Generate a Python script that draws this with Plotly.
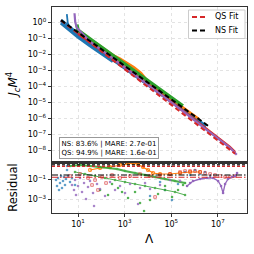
import numpy as np
import plotly.graph_objects as go

# ---------------- data (log10 values) ----------------
BLUE_LX = [0.27, 0.6, 1.0, 1.5, 2.0, 2.5, 3.0, 3.5, 4.0, 4.5, 5.0, 5.5, 6.0, 6.5]
BLUE_LY = [0.10, -0.30, -0.75, -1.30, -1.82, -2.35, -2.88, -3.40, -3.93, -4.45, -4.97, -5.50, -6.02, -6.50]
BLUE2_LX = [0.27, 0.6, 1.0, 1.5, 2.0, 2.5]
BLUE2_LY = [-0.05, -0.45, -0.92, -1.45, -1.97, -2.45]
BLUE3_LX = [0.52, 0.53, 0.56, 0.62, 0.75]
BLUE3_LY = [0.50, 0.20, -0.05, -0.25, -0.42]
ORANGE_LX = [1.0, 1.5, 2.0, 2.5, 2.8, 3.1, 3.4, 3.7, 3.9, 4.2, 4.6, 5.0, 5.6, 6.2]
ORANGE_LY = [-0.54, -1.06, -1.58, -2.06, -2.27, -2.53, -2.82, -3.16, -3.52, -3.93, -4.35, -4.76, -5.42, -6.06]
GREEN_LX = [0.95, 0.97, 1.0, 1.5, 2.0, 2.5, 3.0, 3.5, 4.0, 4.5, 5.0, 5.5]
GREEN_LY = [-0.15, -0.35, -0.50, -1.03, -1.56, -2.08, -2.60, -3.13, -3.66, -4.18, -4.70, -5.22]
RED_LX = [1.0, 1.5, 2.5, 3.5, 4.5, 5.5, 6.5, 7.0, 7.5, 7.74]
RED_LY = [-0.72, -1.22, -2.28, -3.34, -4.42, -5.52, -6.66, -7.22, -7.76, -8.10]
PURPLE_LX = [0.85, 0.86, 0.88, 0.95, 1.5, 2.5, 3.5, 4.5, 5.5, 6.5, 7.0, 7.5, 7.81]
PURPLE_LY = [0.55, 0.30, 0.00, -0.35, -1.20, -2.27, -3.35, -4.43, -5.55, -6.70, -7.25, -7.80, -8.27]

NS_FIT_LX = [0.27, 6.58]
NS_FIT_LY = [0.12, -6.46]
QS_FIT_LX = [0.27, 7.74]
QS_FIT_LY = [0.10, -8.20]

# residual panel (log10 values)
RB_LX = [0.056, 0.099, 0.142, 0.185, 0.227, 0.27, 0.313, 0.356, 0.399, 0.442, 0.485, 0.528, 0.528, 0.571,
         0.657, 0.742, 0.871, 4.09, 4.52, 4.73, 5.03, 5.29, 5.59, 5.81, 6.02, 6.24, 6.45, 6.67]
RB_LY = [-1.07, -1.67, -0.87, -2.07, -1.37, -0.67, -1.87, -1.17, -0.77, -1.57, -0.97, -0.07, 0.33, -0.67,
         -1.27, -0.87, -1.57, -2.67, -1.27, -2.07, -3.07, -1.47, -0.27, -0.57, -0.07, -0.47, -0.27, -0.67]
RO_LX = [1.515, 1.944, 2.373, 2.803, 3.146, 3.361, 3.575, 3.79, 4.004, 4.219, 4.519, 4.948, 5.378, 5.807, 6.236]
RO_LY = [-0.07, 0.13, 0.23, 0.43, 0.58, 0.63, 0.48, 0.23, -0.07, -0.37, -0.47, -0.47, -0.37, -0.27, -0.27]
RGA_LX = [0.657, 1.086, 1.515, 1.944, 2.373, 2.674, 3.017, 3.446, 3.876, 4.305, 4.734, 5.163, 5.592]
RGA_LY = [0.33, 0.43, 0.33, 0.23, 0.13, 0.03, -0.17, -0.37, -0.57, -0.77, -0.97, -1.17, -1.37]
RGB_LX = [0.871, 1.3, 1.73, 2.159, 2.588, 3.017, 3.446, 3.876, 4.305, 4.734, 5.163, 5.592]
RGB_LY = [-0.27, -0.47, -0.67, -0.87, -1.07, -1.27, -1.47, -1.67, -1.87, -2.07, -2.27, -2.57]
RGS_LX = [1.944, 2.288, 2.459, 2.717, 2.888, 3.146, 3.446, 3.661, 3.833, 4.09, 4.433, 4.734, 5.034, 5.292, 5.506]
RGS_LY = [-2.07, -2.57, -1.47, -1.87, -2.27, -2.87, -2.27, -3.37, -4.17, -3.07, -2.47, -1.67, -2.77, -2.07, -1.57]
RR_LX = [0.657, 1.086, 1.429, 1.601, 1.73, 1.858, 2.03, 2.202, 2.459, 2.803, 3.232, 3.661, 4.09, 4.305, 4.519,
         4.948, 5.378, 5.592, 5.807, 6.021, 6.236, 6.451, 6.665, 6.88, 7.094, 7.309, 7.524, 7.738]
RR_LY = [-0.67, -0.47, -0.87, -1.57, -1.07, -2.07, -0.77, -1.37, -0.57, -0.87, -0.67, -0.47, -0.67, -2.77, -0.57,
         -0.47, -0.27, -0.17, -0.17, -0.17, -0.27, -0.37, -0.47, -0.57, -0.67, -0.77, -0.77, -0.67]
RP_LX = [0.742, 0.828, 0.871, 0.914, 1.0, 1.086, 1.172, 1.258, 1.343, 1.429, 1.515, 1.644, 1.687, 1.815, 1.944,
         2.159, 2.373, 2.588, 2.803, 3.017, 3.232, 3.575, 3.661, 3.876, 4.09, 4.519, 4.948, 5.378]
RP_LY = [-1.57, -2.07, -1.07, -2.57, -1.67, -0.87, -2.27, -1.37, -2.97, -1.77, -1.17, -2.37, -3.67, -1.47, -1.97,
         -2.67, -1.27, -2.07, -1.67, -2.37, -1.47, -3.47, -1.87, -1.37, -1.97, -1.57, -1.07, -1.17]
RPC_LX = [5.678, 5.807, 5.936, 6.236, 6.536, 6.794, 7.009, 7.137, 7.223, 7.309, 7.438, 7.609, 7.738, 7.824]
RPC_LY = [-1.67, -1.37, -1.17, -0.97, -0.87, -0.87, -1.17, -1.67, -2.37, -1.47, -0.97, -0.77, -0.67, -0.37]

NS_UPPER = 2.8
QS_UPPER = 2.0
NS_MARE = 0.27
QS_MARE = 0.16
NS_PCT = 83.6
QS_PCT = 94.9

LEGEND_LABELS = ["QS Fit", "NS Fit"]
TOP_TICK_EXP = [0, -1, -2, -3, -4, -5, -6, -7, -8]
RES_TICK_EXP = [-1, -3]
X_TICK_EXP = [1, 3, 5, 7]

C_BLUE, C_ORANGE, C_GREEN, C_RED, C_PURPLE = "#1f77b4", "#ff7f0e", "#2ca02c", "#d62728", "#9467bd"


def p(a):
    return np.power(10.0, np.array(a, dtype=float))


def sup(e):
    s = str(e).replace("-", "\u2212")
    return "10<sup>" + s + "</sup>"


fig = go.Figure()

# ---------- top panel ----------
for lx, ly, c, w in [(BLUE_LX, BLUE_LY, C_BLUE, 3.5), (BLUE2_LX, BLUE2_LY, C_BLUE, 3.5),
                     (BLUE3_LX, BLUE3_LY, C_BLUE, 1.8),
                     (ORANGE_LX, ORANGE_LY, C_ORANGE, 2.5), (GREEN_LX, GREEN_LY, C_GREEN, 3.5),
                     (RED_LX, RED_LY, C_RED, 2.5), (PURPLE_LX, PURPLE_LY, C_PURPLE, 2.2)]:
    fig.add_trace(go.Scatter(x=p(lx), y=p(ly), mode="lines", line=dict(color=c, width=w),
                             showlegend=False, xaxis="x", yaxis="y", hoverinfo="skip"))

fig.add_trace(go.Scatter(x=p(QS_FIT_LX), y=p(QS_FIT_LY), mode="lines", name=LEGEND_LABELS[0],
                         line=dict(color=C_RED, width=2, dash="5px,3px"), xaxis="x", yaxis="y",
                         showlegend=False))
fig.add_trace(go.Scatter(x=p(NS_FIT_LX), y=p(NS_FIT_LY), mode="lines", name=LEGEND_LABELS[1],
                         line=dict(color="black", width=2, dash="5px,3px"), xaxis="x", yaxis="y",
                         showlegend=False))

# ---------- residual panel ----------
ms = 2.6
fig.add_trace(go.Scatter(x=p(RB_LX), y=p(RB_LY), mode="markers", marker=dict(color=C_BLUE, size=ms, opacity=0.7),
                         showlegend=False, xaxis="x2", yaxis="y2"))
fig.add_trace(go.Scatter(x=p(RO_LX), y=p(RO_LY), mode="lines+markers", line=dict(color=C_ORANGE, width=1.2),
                         marker=dict(color=C_ORANGE, size=ms, symbol="square-open"),
                         showlegend=False, xaxis="x2", yaxis="y2"))
fig.add_trace(go.Scatter(x=p(RGA_LX), y=p(RGA_LY), mode="lines+markers", line=dict(color=C_GREEN, width=2.2),
                         marker=dict(color=C_GREEN, size=ms), opacity=0.85,
                         showlegend=False, xaxis="x2", yaxis="y2"))
fig.add_trace(go.Scatter(x=p(RGB_LX), y=p(RGB_LY), mode="lines+markers", line=dict(color=C_GREEN, width=1.0),
                         marker=dict(color=C_GREEN, size=ms), opacity=0.8,
                         showlegend=False, xaxis="x2", yaxis="y2"))
fig.add_trace(go.Scatter(x=p(RGS_LX), y=p(RGS_LY), mode="markers", marker=dict(color=C_GREEN, size=ms, opacity=0.8),
                         showlegend=False, xaxis="x2", yaxis="y2"))
fig.add_trace(go.Scatter(x=p(RR_LX), y=p(RR_LY), mode="markers",
                         marker=dict(color=C_RED, size=ms, opacity=0.6, symbol="square-open"),
                         showlegend=False, xaxis="x2", yaxis="y2"))
fig.add_trace(go.Scatter(x=p(RP_LX), y=p(RP_LY), mode="markers", marker=dict(color=C_PURPLE, size=ms, opacity=0.8),
                         showlegend=False, xaxis="x2", yaxis="y2"))
fig.add_trace(go.Scatter(x=p(RPC_LX), y=p(RPC_LY), mode="lines+markers", line=dict(color=C_PURPLE, width=1.3),
                         marker=dict(color=C_PURPLE, size=ms),
                         showlegend=False, xaxis="x2", yaxis="y2"))

shapes = []
for val, col, dash in [(NS_UPPER, "black", "3px,2px"), (QS_UPPER, C_RED, "3px,2px"),
                       (NS_MARE, "black", "6px,2px,1.5px,2px"), (QS_MARE, C_RED, "6px,2px,1.5px,2px")]:
    shapes.append(dict(type="line", xref="x2 domain", yref="y2", x0=0, x1=1, y0=val, y1=val,
                       line=dict(color=col, width=1.2, dash=dash)))

# manual legend (box + samples), positioned in paper coordinates
L, R, T, B = 52.0, 247.0, 7.0, 213.0
W, H = R - L, 254.0 - 7.0 - 41.0


def px(x):
    return (x - L) / W


def py(y):
    return (B - y) / H


shapes.append(dict(type="rect", xref="paper", yref="paper", x0=px(188.5), x1=px(245), y0=py(38.5), y1=py(10),
                   line=dict(color="#cccccc", width=1), fillcolor="rgba(255,255,255,0.9)", layer="above"))
legend_ann = []
for i, (lab, col) in enumerate(zip(LEGEND_LABELS, [C_RED, "black"])):
    yy = 17.0 + 13.5 * i
    shapes.append(dict(type="line", xref="paper", yref="paper", x0=px(192), x1=px(207.5), y0=py(yy), y1=py(yy),
                       line=dict(color=col, width=2, dash="5px,3px"), layer="above"))
    legend_ann.append(dict(text=lab, xref="paper", yref="paper", x=px(213), y=py(yy), xanchor="left",
                           yanchor="middle", showarrow=False, font=dict(size=8)))

font_family = "DejaVu Sans"
axis_common = dict(showline=True, linecolor="#333", linewidth=1.2, mirror=True,
                   showgrid=True, gridcolor="#dcdcdc", griddash="dot", gridwidth=0.8,
                   ticks="outside", ticklen=3, tickcolor="#333", zeroline=False, automargin=False,
                   tickfont=dict(size=8, color="black", family=font_family))

split = 0.2451
fig.update_layout(
    width=254, height=254,
    margin=dict(l=52, r=7, t=7, b=41),
    paper_bgcolor="white", plot_bgcolor="white",
    font=dict(family=font_family, color="black"),
    showlegend=False,
    hovermode=False,
    xaxis=dict(type="log", range=[-0.116, 8.25], domain=[0, 1], anchor="y",
               tickvals=p(X_TICK_EXP), showticklabels=False, **axis_common),
    yaxis=dict(type="log", range=[-8.75, 0.94], domain=[split, 1], anchor="x",
               tickvals=p(TOP_TICK_EXP), ticktext=[sup(e) for e in TOP_TICK_EXP], **axis_common),
    xaxis2=dict(type="log", range=[-0.116, 8.25], domain=[0, 1], anchor="y2", matches="x",
                tickvals=p(X_TICK_EXP), ticktext=[sup(e) for e in X_TICK_EXP], **axis_common),
    yaxis2=dict(type="log", range=[-4.37, 0.68], domain=[0, split], anchor="x2",
                tickvals=p(RES_TICK_EXP), ticktext=[sup(e) for e in RES_TICK_EXP], **axis_common),
    shapes=shapes,
    annotations=[
        dict(text="NS: %.1f%% | MARE: %.1e<br>QS: %.1f%% | MARE: %.1e" % (NS_PCT, NS_MARE, QS_PCT, QS_MARE),
             xref="paper", yref="paper", x=0.036, y=0.262, xanchor="left", yanchor="bottom",
             showarrow=False, align="left", font=dict(size=7, color="black"),
             bgcolor="rgba(255,255,255,0.85)", bordercolor="#999", borderwidth=1, borderpad=1.5),
        dict(text="<i>J</i><sub><i>c</i></sub><i>M</i><sup>4</sup>", xref="paper", yref="paper",
             x=-0.2, y=(split + 1) / 2, textangle=-90, showarrow=False, font=dict(size=12),
             xanchor="center", yanchor="middle"),
        dict(text="Residual", xref="paper", yref="paper", x=-0.2, y=split / 2, textangle=-90,
             showarrow=False, font=dict(size=11.5), xanchor="center", yanchor="middle"),
        dict(text="\u039b", xref="paper", yref="paper", x=0.5, y=-0.126, showarrow=False,
             font=dict(size=12), xanchor="center", yanchor="middle"),
    ] + legend_ann,
)

fig.write_html("out.html", post_script="document.body.style.margin='0px';",
               config={"displayModeBar": False, "staticPlot": True})
